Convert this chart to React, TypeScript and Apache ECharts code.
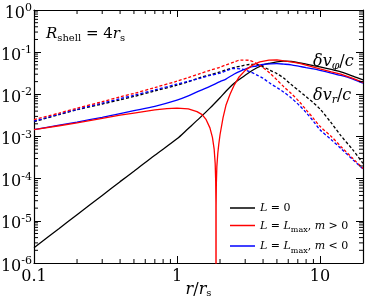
import React, { useEffect, useRef } from "react";
import * as echarts from "echarts";

const SERIF = '"DejaVu Serif", serif';

// radial grid (r / r_s) shared by most curves
const rGrid = [0.1, 0.15, 0.2, 0.3, 0.4, 0.5, 0.7, 1.0, 1.2, 1.45, 1.7, 2.0, 2.2, 2.5, 2.8, 3.2, 3.6, 4.0, 4.5, 5.0, 5.6, 6.3, 7.2, 8.0, 9.0, 10, 12, 14, 17, 20];

// L = 0
const blackPhi = [2.3e-6, 6.6e-6, 1.4e-5, 4.0e-5, 8.5e-5, 1.5e-4, 3.6e-4, 8.8e-4, 1.55e-3, 2.8e-3, 4.7e-3, 8.3e-3, 0.0118, 0.018, 0.024, 0.033, 0.042, 0.05, 0.055, 0.059, 0.061, 0.06, 0.056, 0.052, 0.048, 0.045, 0.039, 0.034, 0.027, 0.022];
const blackR = [2.25e-3, 3.3e-3, 4.3e-3, 5.9e-3, 7.4e-3, 8.9e-3, 0.012, 0.0165, 0.0198, 0.025, 0.029, 0.034, 0.038, 0.043, 0.047, 0.051, 0.051, 0.045, 0.037, 0.031, 0.024, 0.017, 0.0118, 8.8e-3, 6.3e-3, 4.5e-3, 2.1e-3, 1.05e-3, 4.8e-4, 2.3e-4];

// L = Lmax, m > 0
const redPhiR = [0.1, 0.15, 0.2, 0.3, 0.4, 0.5, 0.7, 0.85, 1.0, 1.2, 1.38, 1.5, 1.6, 1.7, 1.77, 1.82, 1.85, 1.865, 1.872, 1.875, 1.878, 1.885, 1.9, 1.93, 1.96, 2.0, 2.1, 2.2, 2.35, 2.5, 2.7, 3.0, 3.4, 3.8, 4.4, 5.0, 5.6, 6.3, 7.2, 8.0, 9.0, 10, 12, 14, 17, 20];
const redPhi = [1.45e-3, 1.8e-3, 2.1e-3, 2.7e-3, 3.2e-3, 3.6e-3, 4.3e-3, 4.6e-3, 4.7e-3, 4.5e-3, 3.9e-3, 3.3e-3, 2.5e-3, 1.6e-3, 9.5e-4, 5e-4, 2.3e-4, 9e-5, 2.7e-5, 1e-9, 2.2e-5, 7.5e-5, 1.9e-4, 4e-4, 6.5e-4, 1.1e-3, 2.8e-3, 5.5e-3, 0.01, 0.016, 0.025, 0.037, 0.05, 0.059, 0.065, 0.066, 0.062, 0.059, 0.054, 0.049, 0.044, 0.04, 0.034, 0.03, 0.024, 0.0192];
const redR = [2.5e-3, 3.6e-3, 4.7e-3, 6.7e-3, 8.7e-3, 0.0105, 0.0145, 0.0205, 0.025, 0.031, 0.037, 0.044, 0.05, 0.058, 0.065, 0.064, 0.054, 0.043, 0.031, 0.022, 0.015, 0.0105, 6.6e-3, 4.3e-3, 2.7e-3, 1.75e-3, 1.0e-3, 5.8e-4, 3.0e-4, 1.75e-4];

// L = Lmax, m < 0
const bluePhi = [1.45e-3, 1.85e-3, 2.2e-3, 2.85e-3, 3.5e-3, 4.1e-3, 5.2e-3, 7.3e-3, 9.2e-3, 0.0123, 0.0155, 0.02, 0.023, 0.03, 0.036, 0.043, 0.047, 0.051, 0.053, 0.0535, 0.052, 0.05, 0.046, 0.043, 0.04, 0.037, 0.032, 0.028, 0.023, 0.0185];
const blueR = [2.3e-3, 3.4e-3, 4.4e-3, 6.2e-3, 7.9e-3, 9.5e-3, 0.0127, 0.0175, 0.0205, 0.024, 0.028, 0.032, 0.036, 0.041, 0.04, 0.035, 0.029, 0.024, 0.018, 0.0145, 0.0112, 8.2e-3, 5.4e-3, 3.7e-3, 2.3e-3, 1.45e-3, 8.4e-4, 5.2e-4, 2.8e-4, 1.7e-4];

const legendNames = ["L=0", "L=Lmax, m>0", "L=Lmax, m<0"];
const legendRich: Record<string, string> = {
  "L=0": "{i|L}{n| = 0}",
  "L=Lmax, m>0": "{i|L}{n| = }{i|L}{s|max}{n|, }{i|m}{n| > 0}",
  "L=Lmax, m<0": "{i|L}{n| = }{i|L}{s|max}{n|, }{i|m}{n| < 0}",
};

const xRange = [0.1, 20];
const yRange = [1e-6, 1];

const xMinor: number[] = [];
for (const d of [0.1, 1]) for (let k = 2; k <= 9; k++) xMinor.push(+(k * d).toPrecision(3));
const yMinor: number[] = [];
for (let e = -6; e < 0; e++) for (let k = 2; k <= 9; k++) yMinor.push(+(k * Math.pow(10, e)).toPrecision(3));

export default function App() {
  const ref = useRef<HTMLDivElement>(null);
  useEffect(() => {
    if (!ref.current) return;
    const chart = echarts.init(ref.current, undefined, { renderer: "svg" });

    const line = (name: string, xs: number[], ys: number[], color: string, dashed: boolean, smooth: number | boolean) => ({
      type: "line",
      name,
      data: xs.map((x, i) => [x, ys[i]]),
      showSymbol: false,
      symbol: "none",
      smooth,
      clip: true,
      color,
      itemStyle: { color },
      lineStyle: { color, width: 1.3, type: dashed ? [3, 2] : "solid" },
      z: 2,
    });

    const tickData = [
      ...xMinor.map((x) => [x, 1e-3, 0]),
      ...yMinor.map((y) => [1, y, 1]),
    ];

    const axisCommon = {
      type: "log",
      logBase: 10,
      axisLine: { show: true, onZero: false, lineStyle: { color: "#000", width: 1.2 } },
      axisTick: { show: true, inside: true, length: 7, lineStyle: { color: "#000", width: 1 } },
      splitLine: { show: false },
      minorTick: { show: false },
    };

    const smallRich = {
      i: { fontFamily: SERIF, fontStyle: "italic", fontSize: 11, lineHeight: 12, verticalAlign: "top", color: "#000" },
      n: { fontFamily: SERIF, fontSize: 11, lineHeight: 12, verticalAlign: "top", color: "#000" },
      s: { fontFamily: SERIF, fontSize: 8, lineHeight: 8, padding: [6, 0, 0, 0], verticalAlign: "top", color: "#000" },
    };
    const bigRich = {
      i: { fontFamily: SERIF, fontStyle: "italic", fontSize: 16, lineHeight: 16, verticalAlign: "top", fill: "#000", color: "#000" },
      n: { fontFamily: SERIF, fontSize: 16, lineHeight: 16, verticalAlign: "top", fill: "#000", color: "#000" },
      s: { fontFamily: SERIF, fontStyle: "italic", fontSize: 11, lineHeight: 11, padding: [8, 0, 0, 0], verticalAlign: "top", fill: "#000", color: "#000" },
    };
    const nameRich = {
      i: { fontFamily: SERIF, fontStyle: "italic", fontSize: 16, lineHeight: 16, verticalAlign: "top", color: "#000" },
      n: { fontFamily: SERIF, fontSize: 16, lineHeight: 16, verticalAlign: "top", color: "#000" },
      u: { fontFamily: SERIF, fontSize: 10, lineHeight: 10, padding: [7, 0, 0, 0], verticalAlign: "top", color: "#000" },
    };
    const shellRich = {
      i: { fontFamily: SERIF, fontStyle: "italic", fontSize: 15, lineHeight: 15, verticalAlign: "top", fill: "#000" },
      n: { fontFamily: SERIF, fontSize: 15, lineHeight: 15, verticalAlign: "top", fill: "#000" },
      u: { fontFamily: SERIF, fontSize: 10, lineHeight: 10, padding: [7, 0, 0, 0], verticalAlign: "top", fill: "#000" },
    };

    chart.setOption({
      animation: false,
      grid: { left: 34, right: 11, top: 10, bottom: 36, containLabel: false, outerBoundsMode: "none" },
      xAxis: [
        {
          ...axisCommon,
          min: xRange[0],
          max: xRange[1],
          position: "bottom",
          axisLabel: {
            color: "#000",
            fontFamily: SERIF,
            fontSize: 16,
            margin: 4,
            showMaxLabel: false,
            formatter: (v: number) => String(parseFloat(v.toPrecision(6))),
          },
          name: "{i|r}{n|/}{i|r}{u|s}",
          nameLocation: "middle",
          nameGap: 17,
          nameMoveOverlap: false,
          nameTextStyle: { rich: nameRich, verticalAlign: "top" },
        },
        {
          ...axisCommon,
          min: xRange[0],
          max: xRange[1],
          position: "top",
          axisLabel: { show: false },
        },
      ],
      yAxis: [
        {
          ...axisCommon,
          min: yRange[0],
          max: yRange[1],
          splitNumber: 6,
          position: "left",
          axisLabel: {
            color: "#000",
            margin: 2,
            formatter: (v: number) => `{b|10}{p|${Math.round(Math.log10(v))}}`,
            rich: {
              b: { fontFamily: SERIF, fontSize: 16, lineHeight: 16, padding: [2, 0, 0, 0], verticalAlign: "top", color: "#000" },
              p: { fontFamily: SERIF, fontSize: 11, lineHeight: 11, verticalAlign: "top", color: "#000" },
            },
          },
        },
        {
          ...axisCommon,
          min: yRange[0],
          max: yRange[1],
          splitNumber: 6,
          position: "right",
          axisLabel: { show: false },
        },
      ],
      legend: {
        data: legendNames,
        orient: "vertical",
        left: 225,
        top: 197,
        itemWidth: 25,
        itemHeight: 1.5,
        itemGap: 6.5,
        icon: "rect",
        selectedMode: false,
        itemStyle: { borderWidth: 0 },
        formatter: (name: string) => legendRich[name],
        textStyle: { color: "#000", fontFamily: SERIF, fontSize: 11, padding: [0, 0, 0, 0], rich: smallRich },
      },
      graphic: [
        {
          type: "text",
          x: 46,
          y: 25,
          style: { text: "{i|R}{u|shell}{n| = 4}{i|r}{u|s}", rich: shellRich, fill: "#000" },
        },
        {
          type: "text",
          x: 313,
          y: 52,
          style: { text: "{i|δv}{s|φ}{n|/}{i|c}", rich: bigRich, fill: "#000" },
        },
        {
          type: "text",
          x: 313,
          y: 86,
          style: { text: "{i|δv}{s|r}{n|/}{i|c}", rich: bigRich, fill: "#000" },
        },
      ],
      series: [
        line(legendNames[0], rGrid, blackPhi, "#000000", false, 0.3),
        line("L=0 r", rGrid, blackR, "#000000", true, 0.3),
        line(legendNames[2], rGrid, bluePhi, "#0000ff", false, 0.3),
        line("L=Lmax, m<0 r", rGrid, blueR, "#0000ff", true, 0.3),
        line(legendNames[1], redPhiR, redPhi, "#ff0000", false, false),
        line("L=Lmax, m>0 r", rGrid, redR, "#ff0000", true, 0.3),
        {
          type: "custom",
          coordinateSystem: "cartesian2d",
          xAxisIndex: 0,
          yAxisIndex: 0,
          silent: true,
          clip: false,
          z: 3,
          encode: { x: 0, y: 1 },
          data: tickData,
          renderItem: (params: any, api: any) => {
            const cs = params.coordSys;
            const kind = api.value(2);
            const st = { stroke: "#000", lineWidth: 1 };
            const L = 4;
            if (kind === 0) {
              const px = api.coord([api.value(0), 1e-3])[0];
              return {
                type: "group",
                children: [
                  { type: "line", shape: { x1: px, y1: cs.y + cs.height, x2: px, y2: cs.y + cs.height - L }, style: st },
                  { type: "line", shape: { x1: px, y1: cs.y, x2: px, y2: cs.y + L }, style: st },
                ],
              };
            }
            const py = api.coord([1, api.value(1)])[1];
            return {
              type: "group",
              children: [
                { type: "line", shape: { x1: cs.x, y1: py, x2: cs.x + L, y2: py }, style: st },
                { type: "line", shape: { x1: cs.x + cs.width, y1: py, x2: cs.x + cs.width - L, y2: py }, style: st },
              ],
            };
          },
        },
      ],
    });
    return () => chart.dispose();
  }, []);
  return <div ref={ref} style={{ position: "fixed", left: 0, top: 0, width: 374, height: 299 }} />;
}
